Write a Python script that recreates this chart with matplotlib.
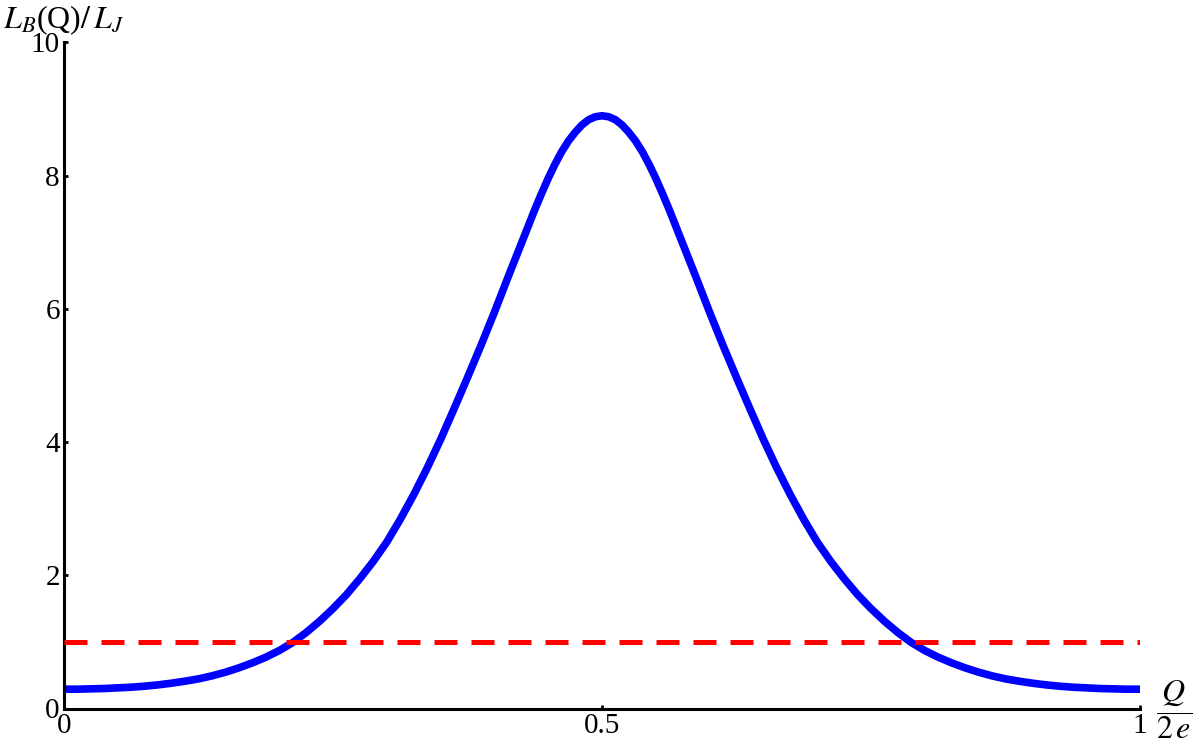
import numpy as np
import matplotlib.pyplot as plt

plt.rcParams['font.family'] = ['Liberation Serif', 'DejaVu Serif']
plt.rcParams['mathtext.fontset'] = 'stix'

# Q/2e and L_B(Q)/L_J (denser near the peak)
q = [0.0, 0.0125, 0.025, 0.0375, 0.05, 0.0625, 0.075, 0.0875, 0.1, 0.1125,
     0.125, 0.1375, 0.15, 0.1625, 0.175, 0.1875, 0.2, 0.2125, 0.225, 0.2375,
     0.25, 0.2625, 0.275, 0.2875, 0.3, 0.3125, 0.325, 0.3375, 0.35, 0.3625,
     0.375, 0.3875, 0.4, 0.4125, 0.425, 0.4375, 0.44375, 0.45, 0.45625, 0.4625,
     0.46875, 0.475, 0.48125, 0.4875, 0.49375, 0.5, 0.50625, 0.5125, 0.51875, 0.525,
     0.53125, 0.5375, 0.54375, 0.55, 0.55625, 0.5625, 0.575, 0.5875, 0.6, 0.6125,
     0.625, 0.6375, 0.65, 0.6625, 0.675, 0.6875, 0.7, 0.7125, 0.725, 0.7375,
     0.75, 0.7625, 0.775, 0.7875, 0.8, 0.8125, 0.825, 0.8375, 0.85, 0.8625,
     0.875, 0.8875, 0.9, 0.9125, 0.925, 0.9375, 0.95, 0.9625, 0.975, 0.9875, 1.0]
lb = [0.29, 0.29, 0.295, 0.30, 0.31, 0.32, 0.335, 0.355, 0.38, 0.41,
      0.445, 0.49, 0.545, 0.61, 0.685, 0.77, 0.87, 0.99, 1.14, 1.31,
      1.50, 1.71, 1.95, 2.21, 2.50, 2.84, 3.21, 3.61, 4.04, 4.50,
      4.97, 5.45, 5.95, 6.47, 6.98, 7.49, 7.73, 7.96, 8.17, 8.36,
      8.52, 8.65, 8.76, 8.84, 8.885, 8.90, 8.885, 8.84, 8.76, 8.65,
      8.52, 8.36, 8.17, 7.96, 7.73, 7.49, 6.98, 6.47, 5.95, 5.45,
      4.97, 4.50, 4.04, 3.61, 3.21, 2.84, 2.50, 2.21, 1.95, 1.71,
      1.50, 1.31, 1.14, 0.99, 0.87, 0.77, 0.685, 0.61, 0.545, 0.49,
      0.445, 0.41, 0.38, 0.355, 0.335, 0.32, 0.31, 0.30, 0.295, 0.29, 0.29]
ref_level = 1.0

fig = plt.figure(figsize=(12, 7.51), dpi=100)
ax = fig.add_axes([64/1200, 42.5/751, 1076/1200, 666/751])

ax.plot(q, lb, color=(0, 0, 1), lw=5.5, solid_capstyle='butt', solid_joinstyle='round', zorder=2)
ax.plot([0, 1], [ref_level, ref_level], color=(1, 0, 0), lw=3.6, dashes=(4.6, 2.8), zorder=3)

ax.set_xlim(0, 1)
ax.set_ylim(0, 10)
ax.set_xticks([0, 0.5, 1])
ax.set_xticklabels(['0', '0.5', '1'])
ax.set_yticks([0, 2, 4, 6, 8, 10])
ax.set_yticklabels(['0', '2', '4', '6', '8', '10'])

for s in ['top', 'right']:
    ax.spines[s].set_visible(False)
for s in ['left', 'bottom']:
    ax.spines[s].set_linewidth(2.2)
ax.tick_params(direction='in', length=3, width=2, labelsize=21, pad=3)

fig.text(3/1200, 1 - 28/751, r'$L_B$(Q)$/\,L_J$', fontsize=23, va='baseline', ha='left')
fig.text(1174/1200, 1 - 710/751, r'$\dfrac{Q}{2\,e}$', fontsize=23, va='center', ha='center')

fig.savefig('out.png', dpi=100)
